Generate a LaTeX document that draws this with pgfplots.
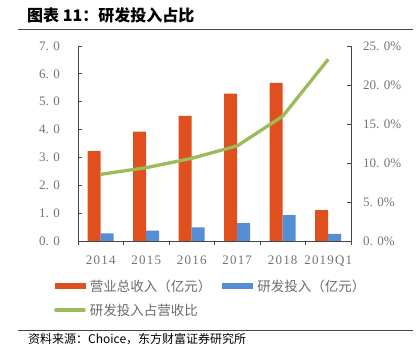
\documentclass[border=0pt]{standalone}
\usepackage{pgfplots}
\pgfplotsset{compat=1.18}
\usepackage{fontspec}
\setmainfont{Liberation Serif}
\newfontfamily\numfont[LetterSpace=9]{Liberation Serif}
\newfontfamily\cjk{Noto Sans CJK SC}
\definecolor{cOrange}{RGB}{224,79,30}
\definecolor{cBlue}{RGB}{85,142,213}
\definecolor{cGreen}{RGB}{155,187,89}
\definecolor{cTick}{RGB}{115,115,115}
\definecolor{cAxis}{RGB}{70,70,70}
\begin{document}
\begin{tikzpicture}[x=1pt,y=1pt]
\useasboundingbox (0,0) rectangle (416,356);
\node[anchor=west,inner sep=0pt] at (27,341) {\cjk\bfseries\fontsize{16}{18}\selectfont 图表 11：研发投入占比};
\draw[cAxis, line width=0.8pt] (18,327) -- (413,327);
\draw[cAxis, line width=0.8pt] (18,26) -- (413,26);
\node[anchor=west,inner sep=0pt] at (28,17) {\cjk\fontsize{12}{14}\selectfont 资料来源：Choice，东方财富证券研究所};

\begin{axis}[
  at={(78pt,115pt)}, anchor=south west, scale only axis,
  width=273pt, height=195pt,
  xmin=-0.5, xmax=5.5, ymin=0, ymax=7,
  axis x line*=bottom, axis y line*=left,
  axis line style={-, draw=cAxis, line width=0.9pt},
  tick align=inside, major tick length=4pt,
  tick style={cAxis, line width=0.8pt},
  ytick={0,1,...,7},
  yticklabels={0. 0,1. 0,2. 0,3. 0,4. 0,5. 0,6. 0,7. 0},
  xtick={-0.5,0.5,...,5.5},
  xticklabels={2014,2015,2016,2017,2018,2019Q1},
  x tick label as interval,
  tick label style={font=\fontsize{13}{15}\selectfont, text=cTick},
  yticklabel style={inner sep=0pt, xshift=-18pt},
  xticklabel style={inner sep=0pt, yshift=-10.7pt, font=\numfont\fontsize{13}{15}\selectfont},
  ybar=0pt, bar width=13pt,
  legend columns=2,
  legend cell align=left,
  legend style={draw=none, fill=none, inner sep=0pt,
    at={(-0.0879,-0.197)}, anchor=north west,
    font=\cjk\fontsize{13.5}{15}\selectfont, text=black!58,
    nodes={inner sep=0pt},
    row sep=11pt,
    /tikz/every odd column/.append style={column sep=4pt},
    /tikz/every even column/.append style={column sep=11pt}},
]
\addplot[fill=cOrange, draw=none,
  legend image code/.code={\fill[cOrange] (0pt,-3.2pt) rectangle (31pt,3.2pt);}]
  coordinates {(0,3.23) (1,3.93) (2,4.49) (3,5.29) (4,5.68) (5,1.11)};
\addlegendentry{营业总收入（亿元）}
\addplot[fill=cBlue, draw=none,
  legend image code/.code={\fill[cBlue] (0pt,-3.2pt) rectangle (31pt,3.2pt);}]
  coordinates {(0,0.27) (1,0.37) (2,0.49) (3,0.64) (4,0.93) (5,0.26)};
\addlegendentry{研发投入（亿元）}
\addlegendimage{legend image code/.code={\draw[cGreen, line width=3.6pt, line cap=round] (1.5pt,0pt) -- (29.5pt,0pt);}}
\addlegendentry{研发投入占营收比}
\end{axis}

\begin{axis}[
  at={(78pt,115pt)}, anchor=south west, scale only axis,
  width=273pt, height=195pt,
  xmin=-0.5, xmax=5.5, ymin=0, ymax=25,
  axis y line*=right, axis x line=none,
  axis line style={-, draw=cAxis, line width=0.9pt},
  tick align=inside, major tick length=4pt,
  tick style={cAxis, line width=0.8pt},
  ytick={0,5,...,25},
  yticklabels={0. 0\%,5. 0\%,10. 0\%,15. 0\%,20. 0\%,25. 0\%},
  tick label style={font=\fontsize{13}{15}\selectfont, text=cTick},
  yticklabel style={inner sep=0pt, xshift=12pt},
]
\addplot[cGreen, line width=3.3pt, line join=round, mark=none]
  coordinates {(0,8.55) (1,9.4) (2,10.6) (3,12.2) (4,16.0) (5,23.3)};
\end{axis}
\end{tikzpicture}
\end{document}
